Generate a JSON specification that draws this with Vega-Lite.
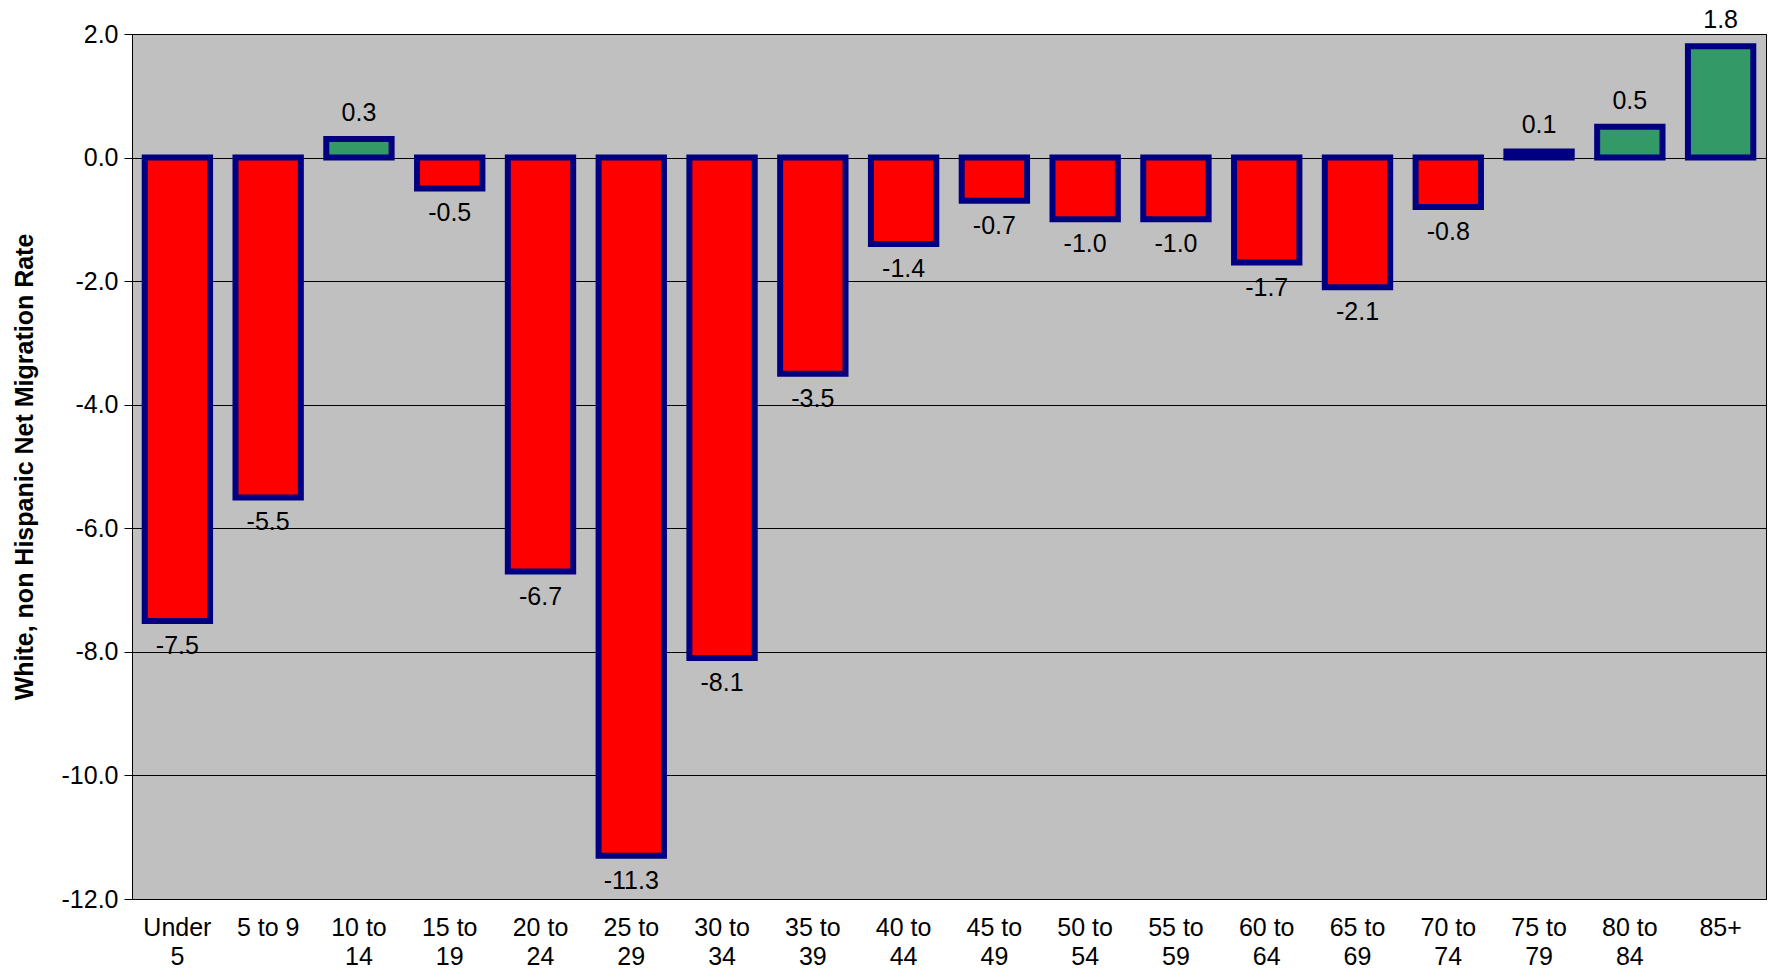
{
  "$schema": "https://vega.github.io/schema/vega-lite/v6.json",
  "width": 1634,
  "height": 865,
  "padding": {"left": 132, "top": 34, "right": 3, "bottom": 75},
  "autosize": {"type": "none"},
  "background": "white",
  "data": {
    "values": [
      {"age": "Under 5", "rate": -7.5},
      {"age": "5 to 9", "rate": -5.5},
      {"age": "10 to 14", "rate": 0.3},
      {"age": "15 to 19", "rate": -0.5},
      {"age": "20 to 24", "rate": -6.7},
      {"age": "25 to 29", "rate": -11.3},
      {"age": "30 to 34", "rate": -8.1},
      {"age": "35 to 39", "rate": -3.5},
      {"age": "40 to 44", "rate": -1.4},
      {"age": "45 to 49", "rate": -0.7},
      {"age": "50 to 54", "rate": -1.0},
      {"age": "55 to 59", "rate": -1.0},
      {"age": "60 to 64", "rate": -1.7},
      {"age": "65 to 69", "rate": -2.1},
      {"age": "70 to 74", "rate": -0.8},
      {"age": "75 to 79", "rate": 0.1},
      {"age": "80 to 84", "rate": 0.5},
      {"age": "85+", "rate": 1.8}
    ]
  },
  "transform": [
    {"calculate": "replace(format(datum.rate, '.1f'), '\u2212', '-')", "as": "label"}
  ],
  "encoding": {
    "x": {
      "field": "age", "type": "nominal", "sort": null, "title": null,
      "scale": {"paddingInner": 0.28, "paddingOuter": 0.14},
      "axis": {
        "labelAngle": 0, "labelFontSize": 25, "labelColor": "black", "labelPadding": 16,
        "domainColor": "black", "ticks": false, "labelLineHeight": 29,
        "labelExpr": "datum.value == '5 to 9' || datum.value == '85+' ? datum.value : length(split(datum.value, ' ')) == 3 ? [split(datum.value, ' ')[0] + ' to', split(datum.value, ' ')[2]] : split(datum.value, ' ')"
      }
    },
    "y": {
      "field": "rate", "type": "quantitative",
      "scale": {"domain": [-12, 2], "nice": false},
      "title": "White, non Hispanic Net Migration Rate",
      "axis": {
        "values": [-12, -10, -8, -6, -4, -2, 0, 2],
        "labelExpr": "replace(format(datum.value, '.1f'), '\u2212', '-')",
        "labelFontSize": 25, "labelColor": "black", "titleFontSize": 25, "titleColor": "black",
        "titlePadding": 24, "gridColor": "black", "gridWidth": 1, "domainColor": "black",
        "tickColor": "black", "tickSize": 8, "labelPadding": 6
      }
    }
  },
  "layer": [
    {
      "mark": {"type": "bar", "stroke": "#000080", "strokeWidth": 6},
      "encoding": {
        "color": {
          "condition": {"test": "datum.rate > 0", "value": "#339966"},
          "value": "#ff0000"
        }
      }
    },
    {
      "transform": [{"filter": "datum.rate > 0"}],
      "mark": {"type": "text", "fontSize": 25, "color": "black", "baseline": "bottom", "dy": -13},
      "encoding": {"text": {"field": "label", "type": "nominal"}}
    },
    {
      "transform": [{"filter": "datum.rate <= 0"}],
      "mark": {"type": "text", "fontSize": 25, "color": "black", "baseline": "top", "dy": 13},
      "encoding": {"text": {"field": "label", "type": "nominal"}}
    }
  ],
  "config": {
    "font": "Liberation Sans",
    "view": {"fill": "#c0c0c0", "stroke": "black", "strokeWidth": 1}
  }
}
